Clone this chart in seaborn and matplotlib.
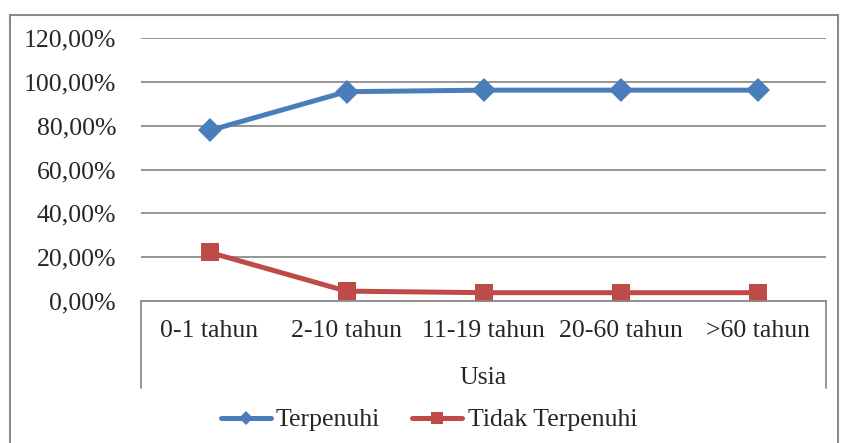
import pandas as pd
import matplotlib.pyplot as plt
import matplotlib.patches as mpatches
from matplotlib.lines import Line2D
import seaborn as sns

# values
categories = ['0-1 tahun', '2-10 tahun', '11-19 tahun', '20-60 tahun', '>60 tahun']
terpenuhi = [0.778, 0.955, 0.962, 0.962, 0.962]
tidak_terpenuhi = [0.222, 0.045, 0.038, 0.038, 0.038]
y_ticks = [0.0, 0.2, 0.4, 0.6, 0.8, 1.0, 1.2]
y_labels = ['0,00%', '20,00%', '40,00%', '60,00%', '80,00%', '100,00%', '120,00%']

df = pd.DataFrame({
    'Usia': categories * 2,
    'nilai': terpenuhi + tidak_terpenuhi,
    'seri': ['Terpenuhi'] * 5 + ['Tidak Terpenuhi'] * 5,
})

sns.set_style('white')
plt.rcParams['font.family'] = ['Liberation Serif', 'DejaVu Serif']

blue = '#4A7EBB'
red = '#BE4B48'
grid_c = '#8C8C8C'
fs = 18.5

fig = plt.figure(figsize=(8.41, 4.43), dpi=100)
ax = fig.add_axes([141 / 841, 142 / 443, 685 / 841, 263 / 443])

# outer chart frame
fig.patches.append(mpatches.Rectangle((10 / 841, -0.05), 828 / 841, 1 - 15 / 443 + 0.05,
                                      transform=fig.transFigure, fill=False,
                                      edgecolor='#8A8A8A', linewidth=1.5))

sns.lineplot(data=df, x='Usia', y='nilai', hue='seri', style='seri',
             markers={'Terpenuhi': 'D', 'Tidak Terpenuhi': 's'}, dashes=False,
             palette={'Terpenuhi': blue, 'Tidak Terpenuhi': red},
             linewidth=3.6, markersize=12.5, markeredgewidth=0, ax=ax, legend=False)

ax.set_xlim(-0.5, 4.5)
ax.set_ylim(0, 1.2)
ax.set_yticks(y_ticks)
ax.set_yticklabels(y_labels, fontsize=fs)
ax.tick_params(axis='y', length=0, pad=18)
ax.tick_params(axis='x', length=0, pad=14, labelsize=fs)
ax.set_xticks(range(len(categories)))
ax.set_xticklabels(categories)
ax.grid(axis='y', color=grid_c, linewidth=1.3)
ax.set_axisbelow(True)
for s in ['top', 'left', 'right']:
    ax.spines[s].set_visible(False)
ax.spines['bottom'].set_color(grid_c)
ax.spines['bottom'].set_linewidth(1.3)
ax.set_xlabel('Usia', fontsize=fs, labelpad=18)
ax.set_ylabel('')

# category box lines below the axis
for xs in (0, 1):
    ax.add_line(Line2D([xs, xs], [0, -0.33], transform=ax.transAxes,
                       color=grid_c, linewidth=1.3, clip_on=False))

handles = [Line2D([], [], color=blue, marker='D', markersize=7, linewidth=3.6, markeredgewidth=0),
           Line2D([], [], color=red, marker='s', markersize=8.5, linewidth=3.6, markeredgewidth=0)]
fig.legend(handles, ['Terpenuhi', 'Tidak Terpenuhi'], loc='center', bbox_to_anchor=(0.51, 23 / 443),
           ncol=2, frameon=False, fontsize=fs, handlelength=1.95, handletextpad=0.2,
           columnspacing=1.25)

fig.savefig('out.png', dpi=100)
